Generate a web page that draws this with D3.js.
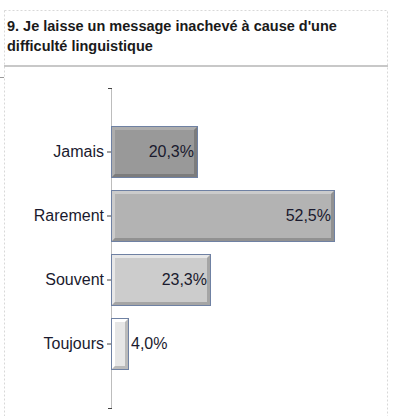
<!DOCTYPE html>
<html><head><meta charset="utf-8">
<script src="https://cdn.jsdelivr.net/npm/d3@7"></script>
<style>
body{margin:0;background:#fff;}
svg{display:block;font-family:Arial,"Liberation Sans",sans-serif;}
</style></head>
<body><svg id="c" width="398" height="416"></svg>
<script>
const titleLines = ["9. Je laisse un message inachevé à cause d'une", "difficulté linguistique"];
const categories = ["Jamais", "Rarement", "Souvent", "Toujours"];
const values = [20.3, 52.5, 23.3, 4.0];
const labels = ["20,3%", "52,5%", "23,3%", "4,0%"];
const fills = ["#999999", "#b3b3b3", "#cccccc", "#e6e6e6"];

const svg = d3.select("#c");

// panel frame
svg.append("rect").attr("x", 4.5).attr("y", 10.5).attr("width", 383).attr("height", 420)
  .attr("fill", "none").attr("stroke", "#d8d8d8").attr("stroke-dasharray", "2,2");
svg.append("line").attr("x1", 4).attr("x2", 388).attr("y1", 66).attr("y2", 66)
  .attr("stroke", "#c8c8c8").attr("stroke-width", 2);
svg.append("line").attr("x1", 0).attr("x2", 4).attr("y1", 77.5).attr("y2", 77.5)
  .attr("stroke", "#999");

svg.append("g").selectAll("text").data(titleLines).join("text")
  .attr("x", 7).attr("y", (d, i) => 31 + i * 19.5)
  .attr("font-size", 14.5).attr("font-weight", "bold").attr("fill", "#1a1a1a")
  .text(d => d);

const x0 = 111;
const x = d3.scaleLinear().domain([0, 60]).range([x0, x0 + 255]);
const y = d3.scaleBand().domain(categories).range([88, 408]).paddingInner(0.2).paddingOuter(0.6);

// axis line
svg.append("line").attr("x1", x0 + 0.5).attr("x2", x0 + 0.5).attr("y1", 88).attr("y2", 409)
  .attr("stroke", "#bdbdbd");
[88.5, 408.5].forEach(v => svg.append("line").attr("x1", x0 - 3).attr("x2", x0 + 1)
  .attr("y1", v).attr("y2", v).attr("stroke", "#444"));

const axis = d3.axisLeft(y).tickSize(4).tickPadding(3);
const ag = svg.append("g").attr("transform", `translate(${x0},0)`).call(axis);
ag.select(".domain").remove();
ag.selectAll(".tick line").attr("stroke", "#444");
ag.selectAll(".tick text").attr("font-size", 16).attr("fill", "#1a1a2e")
  .attr("font-family", "Arial, 'Liberation Sans', sans-serif");

const bars = svg.append("g").selectAll("g").data(categories).join("g");
bars.each(function(c, i) {
  const g = d3.select(this);
  const bx = x(0), by = Math.round(y(c)), bw = Math.round(x(values[i]) - x(0)), bh = Math.round(y.bandwidth());
  g.append("rect").attr("x", bx + 0.5).attr("y", by + 0.5).attr("width", bw).attr("height", bh)
    .attr("fill", fills[i]).attr("stroke", "#6f81a3");
  const b = 3;
  const base = d3.color(fills[i]);
  g.append("path").attr("d", `M${bx+1},${by+1}H${bx+bw}L${bx+bw-b},${by+1+b}H${bx+1+b}V${by+bh-b}L${bx+1},${by+bh}Z`)
    .attr("fill", base.brighter(0.35));
  g.append("path").attr("d", `M${bx+bw},${by+1}V${by+bh}H${bx+1}L${bx+1+b},${by+bh-b}H${bx+bw-b}V${by+1+b}Z`)
    .attr("fill", base.darker(0.6));
  const inside = values[i] > 10;
  g.append("text")
    .attr("x", inside ? bx + bw - 3 : bx + bw + 3)
    .attr("y", by + bh / 2).attr("dy", "0.35em")
    .attr("text-anchor", inside ? "end" : "start")
    .attr("font-size", 16).attr("fill", "#1a1a2e")
    .text(labels[i]);
});
</script></body></html>
